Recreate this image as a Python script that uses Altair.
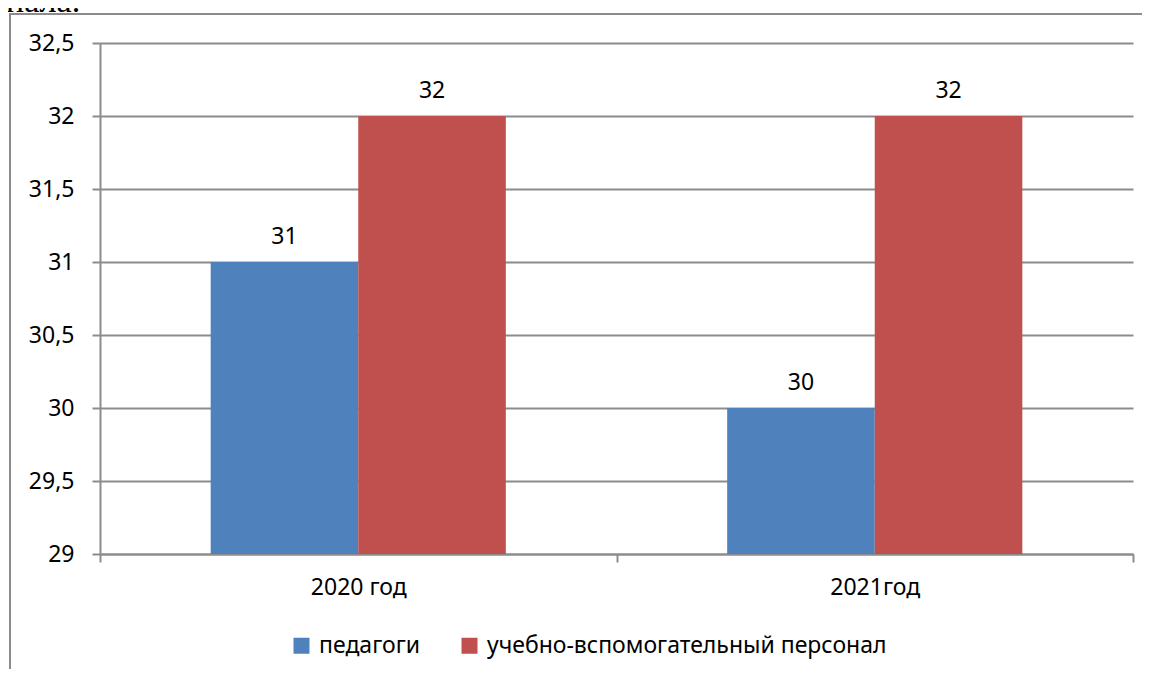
import altair as alt
import pandas as pd

years = ["2020 год", "2021год"]
series = ["педагоги", "учебно-вспомогательный персонал"]
pedagogi = [31, 30]
staff = [32, 32]
colors = ["#4F81BD", "#C0504D"]
y_ticks = [29, 29.5, 30, 30.5, 31, 31.5, 32, 32.5]
y_min, y_max = 29, 32.5
cut_text = ["нала."]

rows = []
for i, yr in enumerate(years):
    rows.append({"year": yr, "series": series[0], "value": pedagogi[i], "base": y_min})
    rows.append({"year": yr, "series": series[1], "value": staff[i], "base": y_min})
df = pd.DataFrame(rows)

FONT = "Noto Sans"
GRID = "#8C8C8C"
FS = 23

x = alt.X(
    "year:N", sort=years, title=None,
    scale=alt.Scale(paddingInner=0, paddingOuter=0),
    axis=alt.Axis(tickBand="extent", labelAngle=0, labelFontSize=FS, labelFont=FONT,
                  labelColor="black", labelPadding=14, tickSize=8, tickColor=GRID,
                  domainColor=GRID, tickWidth=2, domainWidth=2, grid=False),
)
xo = alt.XOffset("series:N", sort=series, scale=alt.Scale(paddingInner=0, paddingOuter=0.75))
y = alt.Y(
    "value:Q", title=None,
    scale=alt.Scale(domain=[y_min, y_max], nice=False, zero=False),
    axis=alt.Axis(values=y_ticks, format="~g", labelExpr="replace(datum.label, '.', ',')",
                  labelFontSize=FS, labelFont=FONT, labelColor="black", labelPadding=18,
                  tickSize=8, tickColor=GRID, tickWidth=2, domainColor=GRID, domainWidth=2,
                  grid=True, gridColor=GRID, gridWidth=2),
)
color = alt.Color(
    "series:N", sort=series,
    scale=alt.Scale(domain=series, range=colors),
    legend=alt.Legend(title=None, orient="none", legendX=190, legendY=591, direction="horizontal",
                      symbolType="square", symbolSize=256, symbolStrokeWidth=0,
                      labelFontSize=FS, labelFont=FONT, labelColor="black", labelOffset=6,
                      labelLimit=0, columnPadding=38, padding=0),
)

base = alt.Chart(df)
bars = base.mark_bar().encode(x=x, xOffset=xo, y=y, y2="base:Q", color=color)
labels = base.mark_text(dy=-18, baseline="alphabetic", fontSize=FS, font=FONT, color="black").encode(
    x=alt.X("year:N", sort=years), xOffset=xo, y=alt.Y("value:Q"), text=alt.Text("value:Q")
)

frame = alt.Chart(pd.DataFrame({"f": [0]})).mark_rect(fillOpacity=0, stroke=GRID, strokeWidth=2).encode(
    x=alt.value(-90), x2=alt.value(3000), y=alt.value(-29), y2=alt.value(3000)
)
cut = alt.Chart(pd.DataFrame({"t": cut_text})).mark_text(
    align="left", baseline="alphabetic", font="Liberation Serif", fontSize=34, color="black"
).encode(text="t:N", x=alt.value(-94), y=alt.value(-31))

chart = alt.layer(frame, bars, labels, cut).properties(
    width=1033, height=511,
    autosize=alt.AutoSizeParams(type="none"),
    padding={"left": 92, "top": 35, "right": 9, "bottom": 115},
).configure_view(stroke=None)

chart.save("out.html", embed_options={"renderer": "svg", "actions": False})
